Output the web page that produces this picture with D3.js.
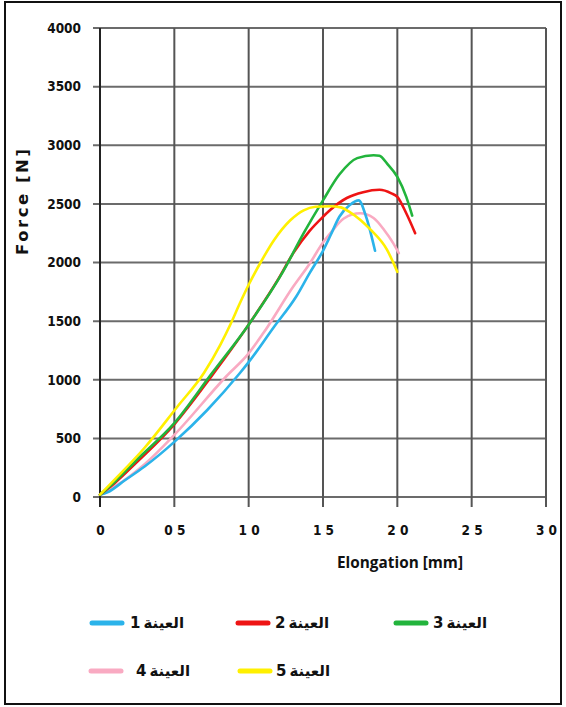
<!DOCTYPE html>
<html>
<head>
<meta charset="utf-8">
<script src="https://cdn.jsdelivr.net/npm/d3@7"></script>
<style>
  body { margin: 0; background: #fff; }
  #chart { width: 566px; height: 707px; }
  .tick-label { font-family: "DejaVu Sans Condensed", "DejaVu Sans", sans-serif; font-weight: bold; font-size: 13.5px; fill: #111; }
</style>
</head>
<body>
<div id="chart"></div>
<script>
// elongation (axis units) and force [N], one pair of arrays per sample
var s1x = [0, 0.05, 0.17, 0.30, 0.50, 0.72, 0.94, 1.0, 1.17, 1.32, 1.41, 1.50, 1.55, 1.61, 1.68, 1.74, 1.79, 1.85];
var s1y = [20, 40, 145, 260, 470, 740, 1055, 1150, 1450, 1710, 1910, 2100, 2230, 2390, 2490, 2530, 2390, 2100];

var s2x = [0, 0.1, 0.25, 0.5, 0.75, 1.0, 1.2, 1.3, 1.41, 1.5, 1.55, 1.66, 1.77, 1.88, 1.96, 2.0, 2.06, 2.12];
var s2y = [20, 120, 300, 620, 1030, 1470, 1860, 2080, 2270, 2390, 2450, 2550, 2600, 2620, 2590, 2560, 2420, 2250];

var s3x = [0, 0.1, 0.25, 0.5, 0.75, 1.0, 1.23, 1.37, 1.5, 1.61, 1.73, 1.84, 1.88, 1.93, 2.0, 2.06, 2.10];
var s3y = [20, 130, 320, 630, 1050, 1470, 1920, 2250, 2530, 2750, 2890, 2915, 2910, 2845, 2730, 2560, 2400];

var s4x = [0, 0.1, 0.3, 0.5, 0.85, 1.0, 1.1, 1.3, 1.41, 1.5, 1.55, 1.64, 1.75, 1.84, 1.91, 1.97, 2.01];
var s4y = [20, 90, 280, 530, 1030, 1225, 1400, 1795, 1990, 2170, 2250, 2375, 2420, 2380, 2280, 2170, 2080];

var s5x = [0, 0.1, 0.3, 0.52, 0.7, 0.81, 0.88, 0.94, 1.0, 1.08, 1.17, 1.28, 1.37, 1.45, 1.55, 1.62, 1.68, 1.82, 1.93, 2.0];
var s5y = [20, 150, 420, 770, 1060, 1300, 1480, 1650, 1810, 2000, 2190, 2360, 2445, 2475, 2480, 2470, 2430, 2280, 2110, 1920];

// thin space between word and number, as tight as in the picture
var seriesNames = ["العينة\u20091", "العينة\u20092", "العينة\u20093", "العينة\u20094", "العينة\u20095"];
var seriesColors = ["#2bb3ea", "#ee1414", "#22b43c", "#f9aac2", "#fff000"];

var yTicks = [0, 500, 1000, 1500, 2000, 2500, 3000, 3500, 4000];
var xTicks = [0, 0.5, 1.0, 1.5, 2.0, 2.5, 3.0];
var xTickLabels = ["0", "0 5", "1 0", "1 5", "2 0", "2 5", "3 0"];

var allX = [s1x, s2x, s3x, s4x, s5x];
var allY = [s1y, s2y, s3y, s4y, s5y];

var totalWidth = 566, totalHeight = 707;
var margin = { top: 28, left: 100, right: 20, bottom: 210 };
var width = 546 - margin.left;
var height = 497 - margin.top;

var svg = d3.select("#chart").append("svg")
	.attr("width", totalWidth)
	.attr("height", totalHeight);

// outer frame
svg.append("rect")
	.attr("x", 5).attr("y", 2)
	.attr("width", 556).attr("height", 702)
	.attr("fill", "none")
	.attr("stroke", "#111")
	.attr("stroke-width", 2);

var g = svg.append("g")
	.attr("transform", "translate(" + margin.left + "," + margin.top + ")");

var xScale = d3.scaleLinear().domain([0, 3]).range([0, width]);
var yScale = d3.scaleLinear().domain([0, 4000]).range([height, 0]);

// gridlines
g.append("g").selectAll("line")
	.data(yTicks)
	.enter().append("line")
	.attr("x1", -7).attr("x2", width)
	.attr("y1", function (d) { return yScale(d); })
	.attr("y2", function (d) { return yScale(d); })
	.attr("stroke", "#6b6b6b")
	.attr("stroke-width", 2);

g.append("g").selectAll("line")
	.data(xTicks)
	.enter().append("line")
	.attr("x1", function (d) { return xScale(d); })
	.attr("x2", function (d) { return xScale(d); })
	.attr("y1", 0).attr("y2", height + 10)
	.attr("stroke", function (d) { return d === 0 ? "#222" : "#555"; })
	.attr("stroke-width", 2);

// y axis labels
var yAxis = d3.axisLeft(yScale).tickValues(yTicks).tickSize(0).tickPadding(19)
	.tickFormat(d3.format("d"));
var yAxisG = g.append("g").call(yAxis);
yAxisG.select(".domain").remove();
yAxisG.selectAll(".tick text").attr("class", "tick-label").attr("font-family", null).attr("font-size", null);

// x axis labels
var xAxis = d3.axisBottom(xScale).tickValues(xTicks).tickSize(0).tickPadding(28)
	.tickFormat(function (d, i) { return xTickLabels[i]; });
var xAxisG = g.append("g").attr("transform", "translate(0," + height + ")").call(xAxis);
xAxisG.select(".domain").remove();
xAxisG.selectAll(".tick text").attr("class", "tick-label").attr("font-family", null).attr("font-size", null)
	.style("white-space", "pre");

// axis titles
svg.append("text")
	.attr("x", 400).attr("y", 568)
	.attr("text-anchor", "middle")
	.attr("textLength", 126).attr("lengthAdjust", "spacingAndGlyphs")
	.style("font-family", "'Open Sans', sans-serif")
	.style("font-weight", "700")
	.style("font-size", "16.5px")
	.style("fill", "#111")
	.text("Elongation [mm]");

svg.append("text")
	.attr("transform", "translate(28,202) rotate(-90)")
	.attr("text-anchor", "middle")
	.attr("textLength", 106).attr("lengthAdjust", "spacing")
	.style("font-family", "'DejaVu Sans', sans-serif")
	.style("font-weight", "bold")
	.style("font-size", "16.5px")
	.style("fill", "#111")
	.text("Force [N]");

// curves
var line = d3.line()
	.x(function (d) { return xScale(d[0]); })
	.y(function (d) { return yScale(d[1]); })
	.curve(d3.curveMonotoneX);

var order = [3, 0, 1, 2, 4];
order.forEach(function (i) {
	var pts = allX[i].map(function (x, j) { return [x, allY[i][j]]; });
	g.append("path")
		.datum(pts)
		.attr("d", line)
		.attr("fill", "none")
		.attr("stroke", seriesColors[i])
		.attr("stroke-width", 2.6)
		.attr("stroke-linejoin", "round")
		.attr("stroke-linecap", "round");
});

// legend
var legendPos = [
	{ x: 92, y: 623, tx: 130 },
	{ x: 238, y: 623, tx: 275 },
	{ x: 396, y: 623, tx: 433 },
	{ x: 91, y: 671, tx: 136 },
	{ x: 240, y: 671, tx: 276 }
];

var legend = svg.append("g");
seriesNames.forEach(function (name, i) {
	var p = legendPos[i];
	legend.append("line")
		.attr("x1", p.x).attr("x2", p.x + 30)
		.attr("y1", p.y).attr("y2", p.y)
		.attr("stroke", seriesColors[i])
		.attr("stroke-width", 5)
		.attr("stroke-linecap", "round");
	legend.append("text")
		.attr("x", p.tx).attr("y", p.y + 5)
		.style("font-family", "'DejaVu Sans', sans-serif")
		.style("font-weight", "bold")
		.style("font-size", "15px")
		.style("fill", "#111")
		.text(name);
});
</script>
</body>
</html>
